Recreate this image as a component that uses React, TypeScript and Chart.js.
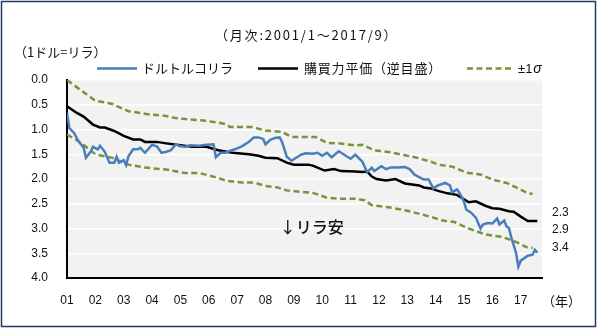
import React, { useEffect, useRef } from "react";
import { Chart, registerables } from "chart.js";
Chart.register(...registerables);

// months since 2001/1 (0 = 2001/1, 200 = 2017/9)
const yearLabels = ["01","02","03","04","05","06","07","08","09","10","11","12","13","14","15","16","17"];

const rateMonths = [0,1,3,5,7,8,10,11,13,14,16,18,20,21,22,24,25,26,28,30,31,33,35,36,38,40,42,44,46,48,50,52,56,59,62,63,65,67,68,71,74,77,79,81,83,84,86,88,90,91,93,95,97,99,101,104,106,108,110,112,115,117,120,122,125,127,129,130,133,135,137,140,143,145,147,149,151,153,155,157,160,162,163,165,166,168,169,171,173,175,176,178,180,182,183,185,186,187,188,190,191,192,195,197,198,199];
const rateValues = [0.66,0.97,1.07,1.25,1.36,1.57,1.45,1.35,1.40,1.33,1.45,1.67,1.67,1.55,1.67,1.62,1.72,1.54,1.40,1.40,1.37,1.47,1.36,1.31,1.34,1.47,1.45,1.42,1.30,1.34,1.35,1.32,1.33,1.31,1.30,1.56,1.47,1.47,1.45,1.40,1.34,1.25,1.16,1.16,1.19,1.30,1.21,1.17,1.16,1.25,1.55,1.63,1.57,1.51,1.48,1.49,1.47,1.53,1.47,1.56,1.44,1.50,1.59,1.51,1.65,1.86,1.77,1.84,1.74,1.80,1.77,1.77,1.76,1.80,1.91,1.96,2.01,2.01,2.19,2.13,2.08,2.13,2.27,2.21,2.27,2.46,2.62,2.68,2.78,3.00,2.92,2.89,2.90,2.80,2.92,2.84,2.96,2.99,3.18,3.49,3.77,3.65,3.55,3.53,3.43,3.49];

const pppMonths = [0,4,7,11,14,16,20,24,28,31,33,38,42,48,53,59,64,70,77,81,84,89,93,96,102,104,109,113,116,122,125,127,129,131,135,139,143,149,151,154,157,161,165,168,170,173,177,180,183,187,189,192,195,199];
const pppValues = [0.53,0.66,0.74,0.90,0.96,0.96,1.03,1.13,1.20,1.20,1.25,1.25,1.28,1.32,1.35,1.35,1.42,1.47,1.50,1.53,1.57,1.58,1.67,1.71,1.71,1.73,1.83,1.80,1.84,1.85,1.86,1.85,1.95,2.00,2.03,2.00,2.09,2.13,2.17,2.19,2.24,2.29,2.32,2.41,2.47,2.45,2.54,2.59,2.60,2.65,2.66,2.76,2.85,2.85];

const upperMonths = [0,6,12,19,26,34,41,46,50,58,64,67,69,78,84,91,95,102,105,110,115,122,125,130,137,143,148,154,157,163,169,175,180,186,191,195,197];
const upperValues = [0.00,0.21,0.42,0.48,0.63,0.69,0.72,0.77,0.79,0.82,0.86,0.89,0.95,0.95,1.02,1.05,1.15,1.15,1.15,1.27,1.28,1.32,1.31,1.42,1.46,1.52,1.57,1.65,1.71,1.75,1.87,1.91,2.01,2.08,2.19,2.29,2.30];

const lowerMonths = [0,6,12,19,26,33,42,50,56,61,68,74,79,84,89,93,99,104,106,110,116,122,126,129,136,143,148,155,159,164,170,177,184,190,195,197];
const lowerValues = [1.10,1.27,1.50,1.57,1.71,1.77,1.81,1.88,1.88,1.94,2.04,2.07,2.07,2.14,2.17,2.23,2.26,2.28,2.31,2.38,2.40,2.40,2.43,2.53,2.57,2.63,2.69,2.78,2.84,2.87,3.00,3.12,3.17,3.27,3.39,3.39];

const endLabels = ["2.3", "2.9", "3.4"];

const JP = '"Noto Sans CJK JP", sans-serif';
const NUM = '"Liberation Sans", Arial, sans-serif';
const BLUE = "#4a7ebb";
const GREEN = "#77933c";

const pts = (m: number[], v: number[]) => m.map((x, i) => ({ x, y: v[i] }));

const decor = {
  id: "decor",
  beforeDraw(chart: any) {
    const { ctx, chartArea: a } = chart;
    ctx.save();
    ctx.fillStyle = "#f2f2f2";
    ctx.fillRect(a.left, a.top, a.right - a.left, a.bottom - a.top);
    ctx.restore();
  },
  afterDraw(chart: any) {
    const { ctx, chartArea: a, scales } = chart;
    ctx.save();
    ctx.fillStyle = "#111";
    ctx.textBaseline = "middle";
    ctx.font = `13px ${JP}`;
    ctx.textAlign = "left";
    (ctx as any).letterSpacing = "1.8px";
    ctx.fillText("（月次:2001/1～2017/9）", 215, 35);
    (ctx as any).letterSpacing = "0px";
    ctx.fillText("（1ドル=リラ）", 14, 52);

    // legend
    const ly = 68.5;
    ctx.lineWidth = 2.5;
    ctx.strokeStyle = BLUE;
    ctx.beginPath(); ctx.moveTo(97, ly); ctx.lineTo(137, ly); ctx.stroke();
    ctx.strokeStyle = "#000";
    ctx.beginPath(); ctx.moveTo(258, ly); ctx.lineTo(298, ly); ctx.stroke();
    ctx.strokeStyle = GREEN;
    ctx.setLineDash([6, 3.5]);
    ctx.beginPath(); ctx.moveTo(467, ly); ctx.lineTo(512, ly); ctx.stroke();
    ctx.setLineDash([]);
    ctx.fillText("ドルトルコリラ", 142, ly);
    (ctx as any).letterSpacing = "0.8px";
    ctx.fillText("購買力平価（逆目盛）", 304, ly);
    (ctx as any).letterSpacing = "0px";
    ctx.font = `13px ${NUM}`;
    ctx.fillText("±1", 518, ly + 1);
    const w = ctx.measureText("±1").width;
    ctx.font = `italic 14px ${NUM}`;
    ctx.fillText("σ", 518 + w + 1, ly + 1);

    // annotation inside plot
    ctx.font = `500 16px ${JP}`;
    ctx.fillText("↓リラ安", scales.x.getPixelForValue(90), scales.y.getPixelForValue(2.96));

    // right-side labels
    ctx.font = `12px ${NUM}`;
    const lx = a.right + 10;
    [2.69, 3.02, 3.39].forEach((v, i) => {
      ctx.fillText(endLabels[i], lx, scales.y.getPixelForValue(v));
    });

    ctx.font = `13px ${JP}`;
    ctx.fillText("（年）", 542, 301);

    // frame
    ctx.strokeStyle = "#1f3864";
    ctx.lineWidth = 1.5;
    ctx.strokeRect(1.5, 1.5, 594, 325);
    ctx.restore();
  },
};

export default function App() {
  const ref = useRef<HTMLCanvasElement>(null);
  useEffect(() => {
    document.body.style.margin = "0";
    const chart = new Chart(ref.current!, {
      type: "line",
      data: {
        datasets: [
          { label: "ドルトルコリラ", data: pts(rateMonths, rateValues), borderColor: BLUE, borderWidth: 2.5 },
          { label: "購買力平価（逆目盛）", data: pts(pppMonths, pppValues), borderColor: "#000", borderWidth: 2.5 },
          { label: "+1σ", data: pts(upperMonths, upperValues), borderColor: GREEN, borderWidth: 2.5, borderDash: [6, 3.5] },
          { label: "-1σ", data: pts(lowerMonths, lowerValues), borderColor: GREEN, borderWidth: 2.5, borderDash: [6, 3.5] },
        ],
      },
      options: {
        animation: false,
        responsive: false,
        events: [],
        elements: { point: { radius: 0 }, line: { tension: 0, fill: false } },
        layout: { padding: { left: 0, right: 58, top: 80, bottom: 0 } },
        plugins: { legend: { display: false }, tooltip: { enabled: false }, title: { display: false } },
        scales: {
          x: {
            type: "linear",
            min: 0,
            max: 201,
            afterBuildTicks: (s: any) => { s.ticks = yearLabels.map((_, i) => ({ value: i * 12 })); },
            afterFit: (s: any) => { s.height = 52; },
            grid: { display: false, drawTicks: false },
            border: { display: true, color: "#000", width: 2 },
            ticks: {
              autoSkip: false,
              maxRotation: 0,
              padding: 15,
              color: "#111",
              font: { family: NUM, size: 12 },
              callback: (v: any) => yearLabels[Math.round(v / 12)] ?? "",
            },
          },
          y: {
            reverse: true,
            min: 0,
            max: 4,
            afterFit: (s: any) => { s.width = 67; },
            grid: { color: "#ffffff", lineWidth: 1.5, drawTicks: false },
            border: { display: true, color: "#000", width: 2 },
            ticks: {
              stepSize: 0.5,
              padding: 19,
              color: "#111",
              font: { family: NUM, size: 12 },
              callback: (v: any) => Number(v).toFixed(1),
            },
          },
        },
      },
      plugins: [decor],
    });
    return () => chart.destroy();
  }, []);
  return (
    <div style={{ width: 600, height: 330, background: "#fff" }}>
      <canvas ref={ref} width={600} height={330} />
    </div>
  );
}
